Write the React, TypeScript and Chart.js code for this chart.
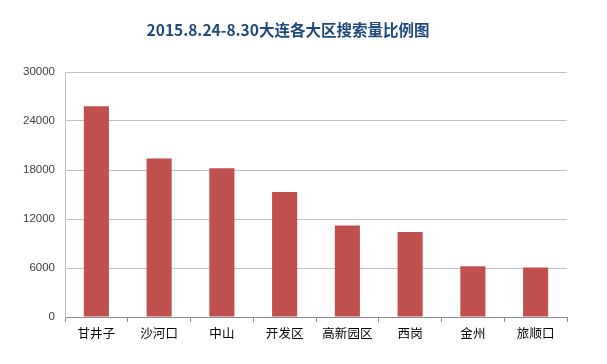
import React, { useEffect, useRef } from "react";
import { Chart, registerables } from "chart.js";

Chart.register(...registerables);

const titleText = "2015.8.24-8.30大连各大区搜索量比例图";
const categories = ["甘井子", "沙河口", "中山", "开发区", "高新园区", "西岗", "金州", "旅顺口"];
const searchVolume = [25800, 19400, 18200, 15300, 11200, 10400, 6200, 6050];
const yMin = 0;
const yMax = 30000;
const yStep = 6000;

const titlePlugin = {
  id: "customTitle",
  afterDraw(chart: any) {
    const ctx = chart.ctx;
    ctx.save();
    ctx.font = "bold 15.5px 'Noto Sans CJK SC', sans-serif";
    ctx.fillStyle = "#1F497D";
    ctx.textAlign = "center";
    ctx.textBaseline = "middle";
    ctx.fillText(titleText, 288, 30);
    ctx.restore();
  },
};

export default function App() {
  const ref = useRef<HTMLCanvasElement>(null);

  useEffect(() => {
    if (!ref.current) return;
    const chart = new Chart(ref.current, {
      type: "bar",
      data: {
        labels: categories,
        datasets: [
          {
            data: searchVolume,
            backgroundColor: "#C0504D",
            borderColor: "#C0504D",
            borderWidth: 0,
            barPercentage: 0.4,
            categoryPercentage: 1,
          },
        ],
      },
      options: {
        animation: false,
        responsive: false,
        maintainAspectRatio: false,
        layout: { padding: { top: 72, right: 40, left: 0, bottom: 0 } },
        plugins: {
          legend: { display: false },
          title: { display: false },
          tooltip: { enabled: false },
        },
        scales: {
          x: {
            grid: {
              display: true,
              drawOnChartArea: false,
              drawTicks: true,
              tickLength: 5,
              color: "#8C8C8C",
              offset: true,
            },
            border: { color: "#8C8C8C", width: 1 },
            ticks: {
              color: "#000000",
              font: { family: "'Noto Sans CJK SC', sans-serif", size: 12.5 },
              padding: 4,
              maxRotation: 0,
              autoSkip: false,
            },
            afterFit: (scale: any) => {
              scale.height = 47;
            },
          },
          y: {
            min: yMin,
            max: yMax,
            grid: { color: "#C0C0C0", drawTicks: false },
            border: { color: "#C0C0C0", width: 1 },
            ticks: {
              stepSize: yStep,
              color: "#404040",
              font: { family: "'Liberation Sans', Arial, sans-serif", size: 11.5 },
              padding: 10,
              callback: (v: any) => String(v),
            },
            afterFit: (scale: any) => {
              scale.width = 65;
            },
          },
        },
      },
      plugins: [titlePlugin],
    });
    return () => chart.destroy();
  }, []);

  return (
    <div style={{ position: "fixed", left: 0, top: 0, width: 607, height: 364, background: "#fff" }}>
      <canvas ref={ref} width={607} height={364} style={{ width: 607, height: 364 }} />
    </div>
  );
}
